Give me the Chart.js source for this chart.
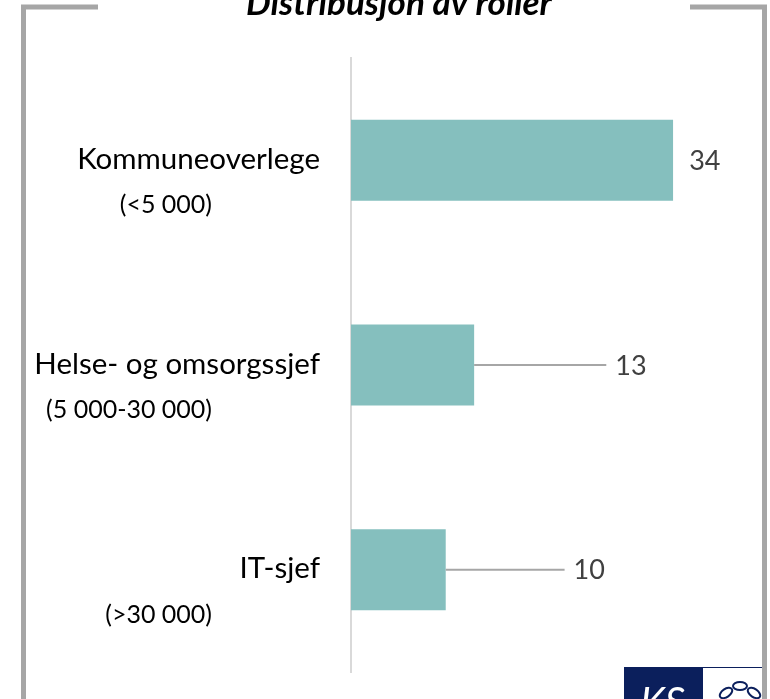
<!DOCTYPE html>
<html>
<head>
<meta charset="utf-8">
<title>Distribusjon av roller</title>
<script src="https://cdn.jsdelivr.net/npm/chart.js@4.4.0/dist/chart.umd.min.js"></script>
<style>
  html, body { margin: 0; padding: 0; background: #ffffff; }
  #wrap { width: 770px; height: 699px; }
</style>
</head>
<body>
<div id="wrap"><canvas id="rolesChart" width="770" height="699"></canvas></div>
<script>
// Data
const chartTitle = 'Distribusjon av roller';
const roles = ['Kommuneoverlege', 'Helse- og omsorgssjef', 'IT-sjef'];
const sizeGroups = ['(<5 000)', '(5 000-30 000)', '(>30 000)'];
const counts = [34, 13, 10];

const FONT = 'Lato, "Open Sans", sans-serif';
const FRAME_GREY = '#a6a6a6';
const NAVY = '#0b1f5c';

// Category labels on the left: role name + municipality size below it
const roleLabels = {
    id: 'roleLabels',
    afterDraw(chart) {
        const { ctx, chartArea, scales: { y } } = chart;
        ctx.save();
        ctx.fillStyle = '#000000';
        ctx.textAlign = 'right';
        ctx.textBaseline = 'middle';
        roles.forEach((role, i) => {
            const yc = y.getPixelForValue(i);
            ctx.font = '29.5px ' + FONT;
            ctx.fillText(role, chartArea.left - 31, yc - 1);
            ctx.font = '25px ' + FONT;
            ctx.fillText(sizeGroups[i], chartArea.left - 139, yc + 45);
        });
        ctx.restore();
    }
};

// Value labels, some moved away from the bar with a leader line
const valueLabels = {
    id: 'valueLabels',
    afterDatasetsDraw(chart, args, opts) {
        const { ctx, scales: { x } } = chart;
        const meta = chart.getDatasetMeta(0);
        ctx.save();
        ctx.font = '27px ' + FONT;
        ctx.textBaseline = 'middle';
        ctx.textAlign = 'left';
        meta.data.forEach((bar, i) => {
            const lx = x.getPixelForValue(opts.labelAt[i]);
            if (lx - bar.x > 40) {
                ctx.strokeStyle = FRAME_GREY;
                ctx.lineWidth = 2;
                ctx.beginPath();
                ctx.moveTo(bar.x, bar.y);
                ctx.lineTo(lx - 9, bar.y);
                ctx.stroke();
            }
            ctx.fillStyle = '#404040';
            ctx.fillText(String(counts[i]), lx, bar.y + 1);
        });
        ctx.restore();
    }
};

// Slide decoration: frame, title, logo
const slideFrame = {
    id: 'slideFrame',
    afterDraw(chart) {
        const { ctx } = chart;
        ctx.save();
        ctx.strokeStyle = FRAME_GREY;
        ctx.lineWidth = 5;
        ctx.lineJoin = 'miter';
        ctx.beginPath();
        ctx.moveTo(23.5, 699);
        ctx.lineTo(23.5, 7);
        ctx.lineTo(98, 7);
        ctx.stroke();
        ctx.beginPath();
        ctx.moveTo(690, 7);
        ctx.lineTo(764.5, 7);
        ctx.lineTo(764.5, 699);
        ctx.stroke();

        // title, cut by the top edge
        ctx.fillStyle = '#000000';
        ctx.font = 'italic bold 35px ' + FONT;
        ctx.textAlign = 'center';
        ctx.textBaseline = 'alphabetic';
        ctx.fillText(chartTitle, 399, 15);

        // logo
        ctx.fillStyle = NAVY;
        ctx.fillRect(624, 667, 79, 32);
        ctx.strokeStyle = NAVY;
        ctx.lineWidth = 1;
        ctx.beginPath();
        ctx.moveTo(703, 667.5);
        ctx.lineTo(762, 667.5);
        ctx.stroke();
        ctx.fillStyle = '#ffffff';
        ctx.font = 'italic 40px ' + FONT;
        ctx.textAlign = 'left';
        ctx.fillText('KS', 640, 716);
        ctx.strokeStyle = NAVY;
        ctx.lineWidth = 2;
        [[726, 693, -0.6], [740, 686, 0], [754, 693, 0.6]].forEach(([cx, cy, rot]) => {
            ctx.beginPath();
            ctx.ellipse(cx, cy, 7, 4, rot, 0, Math.PI * 2);
            ctx.stroke();
        });
        ctx.restore();
    }
};

new Chart(document.getElementById('rolesChart'), {
    type: 'bar',
    data: {
        labels: roles,
        datasets: [{
            data: counts,
            backgroundColor: '#85bfbe',
            borderWidth: 0,
            categoryPercentage: 1,
            barPercentage: 0.396
        }]
    },
    options: {
        indexAxis: 'y',
        responsive: false,
        animation: false,
        layout: {
            padding: { left: 351, right: 42, top: 58, bottom: 27 }
        },
        plugins: {
            legend: { display: false },
            tooltip: { enabled: false },
            valueLabels: { labelAt: [35.7, 27.9, 23.5] }
        },
        scales: {
            x: {
                min: 0,
                max: 39.8,
                display: false
            },
            y: {
                grid: { display: false, drawTicks: false },
                border: { display: true, color: '#d9d9d9', width: 2 },
                ticks: { display: false }
            }
        }
    },
    plugins: [roleLabels, valueLabels, slideFrame]
});
</script>
</body>
</html>
